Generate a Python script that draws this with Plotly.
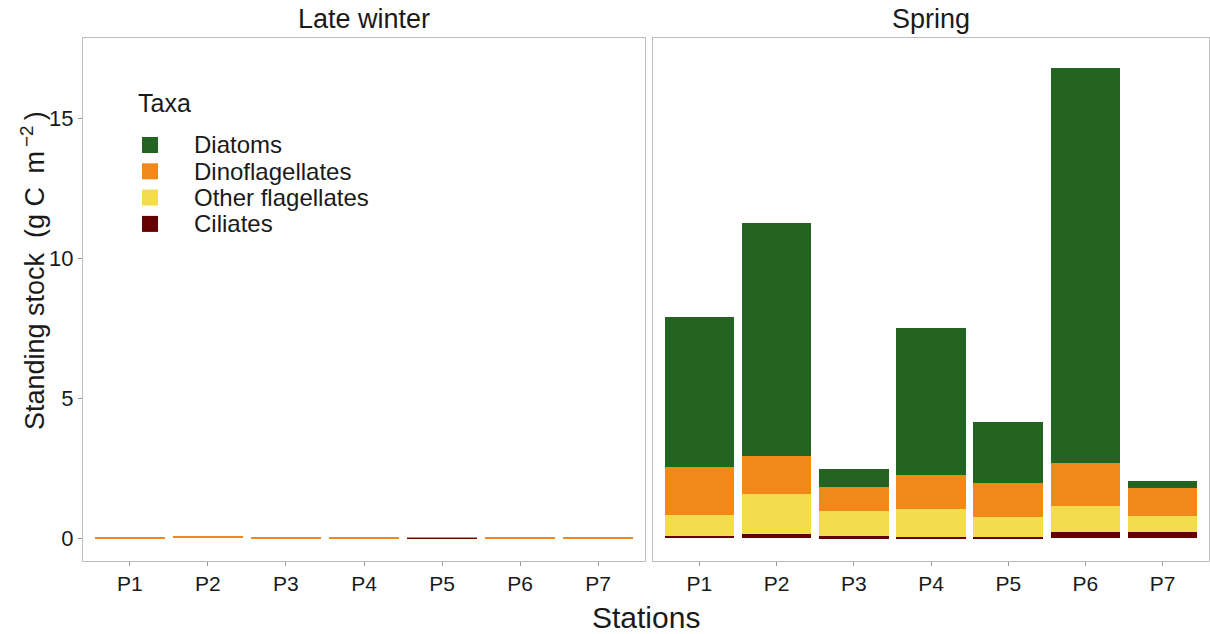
import plotly.graph_objects as go

stations = ["P1", "P2", "P3", "P4", "P5", "P6", "P7"]
taxa = ["Ciliates", "Other flagellates", "Dinoflagellates", "Diatoms"]
legend_order = ["Diatoms", "Dinoflagellates", "Other flagellates", "Ciliates"]
colors = {"Diatoms": "#236423", "Dinoflagellates": "#F2871A",
          "Other flagellates": "#F3DC4E", "Ciliates": "#660000"}

# Late winter (g C m-2)
winter_ciliates = [0.0, 0.0, 0.0, 0.0, 0.002, 0.001, 0.0005]
winter_other = [0.0, 0.0, 0.0, 0.0, 0.0, 0.0, 0.0]
winter_dino = [0.03, 0.09, 0.03, 0.035, 0.006, 0.018, 0.02]
winter_diatoms = [0.0, 0.0, 0.0, 0.0, 0.0, 0.0, 0.0]

# Spring (g C m-2)
spring_ciliates = [0.08, 0.16, 0.07, 0.02, 0.05, 0.22, 0.22]
spring_other = [0.74, 1.42, 0.90, 1.03, 0.71, 0.91, 0.58]
spring_dino = [1.70, 1.36, 0.86, 1.19, 1.19, 1.56, 0.97]
spring_diatoms = [5.37, 8.31, 0.63, 5.26, 2.19, 14.1, 0.27]

winter = {"Ciliates": winter_ciliates, "Other flagellates": winter_other,
          "Dinoflagellates": winter_dino, "Diatoms": winter_diatoms}
spring = {"Ciliates": spring_ciliates, "Other flagellates": spring_other,
          "Dinoflagellates": spring_dino, "Diatoms": spring_diatoms}

fig = go.Figure()
for t in taxa:
    fig.add_trace(go.Bar(x=stations, y=winter[t], name=t, marker_color=colors[t],
                         marker_line_width=0, xaxis="x", yaxis="y", showlegend=False))
for t in taxa:
    fig.add_trace(go.Bar(x=stations, y=spring[t], name=t, marker_color=colors[t],
                         marker_line_width=0, xaxis="x2", yaxis="y2", showlegend=False))

W, H = 1210, 634
L, R, T, B = 83, 1, 38, 73
pw, ph = W - L - R, H - T - B


def px(x):
    return (x - L) / pw


def py(y):
    return (H - B - y) / ph


font_family = "Liberation Sans, Arial, sans-serif"
dark = "#1a1a1a"
yrange = [-0.82, 17.86]
xrange = [-0.6, len(stations) - 1 + 0.6]
axis_common = dict(showline=True, mirror=True, linecolor="#BDBDBD", linewidth=1.3,
                   showgrid=False, zeroline=False, automargin=False)

# manual legend (ggplot style)
shapes = []
annotations = [
    dict(text="Taxa", x=px(136), y=py(103), xref="paper", yref="paper",
         xanchor="left", yanchor="middle", showarrow=False,
         font=dict(size=25, color=dark)),
]
for i, t in enumerate(legend_order):
    yc = 145 + i * 26.3
    shapes.append(dict(type="rect", xref="paper", yref="paper",
                       x0=px(142), x1=px(158), y0=py(yc + 8), y1=py(yc - 8),
                       fillcolor=colors[t], line=dict(width=0)))
    annotations.append(dict(text=t, x=px(192), y=py(yc), xref="paper", yref="paper",
                            xanchor="left", yanchor="middle", showarrow=False,
                            font=dict(size=24, color=dark)))

annotations += [
    dict(text="Late winter", x=(px(83) + px(645)) / 2, y=1, xref="paper", yref="paper",
         xanchor="center", yanchor="middle", yshift=19, showarrow=False,
         font=dict(size=27, color=dark)),
    dict(text="Spring", x=(px(653) + px(1209)) / 2, y=1, xref="paper", yref="paper",
         xanchor="center", yanchor="middle", yshift=19, showarrow=False,
         font=dict(size=27, color=dark)),
    dict(text="Stations", x=(px(83) + px(1209)) / 2, y=0, xref="paper", yref="paper",
         xanchor="center", yanchor="middle", yshift=-56, showarrow=False,
         font=dict(size=30, color=dark)),
    dict(text="Standing stock\u00a0\u00a0(g\u00a0C\u2002m<sup>\u2009−2</sup>\u2009)",
         x=px(33), y=py(271),
         xref="paper", yref="paper", xanchor="center", yanchor="middle",
         textangle=-90, showarrow=False, font=dict(size=27, color=dark)),
]

fig.update_layout(
    width=W, height=H,
    margin=dict(l=L, r=R, t=T, b=B, autoexpand=False),
    paper_bgcolor="white", plot_bgcolor="white",
    barmode="stack", bargap=0.1, showlegend=False,
    font=dict(family=font_family, color=dark),
    xaxis=dict(domain=[0, px(645)], anchor="y", range=xrange, ticks="outside", ticklen=4,
               tickcolor="#999999", tickfont=dict(size=21, color=dark), **axis_common),
    xaxis2=dict(domain=[px(653), 1], anchor="y2", range=xrange, ticks="outside", ticklen=4,
                tickcolor="#999999", tickfont=dict(size=21, color=dark), **axis_common),
    yaxis=dict(range=yrange, anchor="x", tickvals=[0, 5, 10, 15], ticks="outside",
               ticklen=4, tickcolor="#999999", tickfont=dict(size=22, color=dark),
               **axis_common),
    yaxis2=dict(range=yrange, anchor="x2", matches="y", showticklabels=False,
                ticks="", **axis_common),
    shapes=shapes,
    annotations=annotations,
)

post = ("document.body.style.margin='0';document.body.style.overflow='hidden';"
        "var gd=document.getElementById('{plot_id}');"
        "Plotly.relayout(gd,{width:%d,height:%d});" % (W, H))

fig.write_html("out.html", default_width="%dpx" % W, default_height="%dpx" % H,
               post_script=post, config={"displayModeBar": False})
